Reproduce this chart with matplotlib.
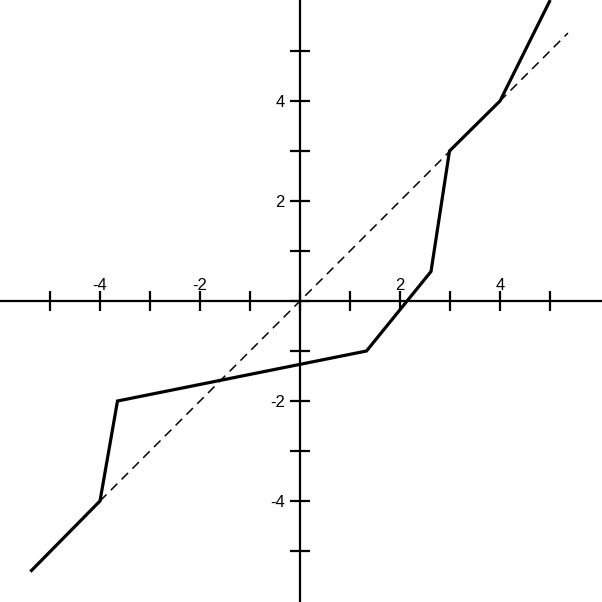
import matplotlib.pyplot as plt

# piecewise curve (solid) and identity line (dashed)
curve_x = [-5.37, -4.0, -3.65, 1.33, 2.62, 2.99, 4.0, 4.99]
curve_y = [-5.39, -4.0, -2.0, -1.0, 0.59, 3.0, 4.0, 5.99]
diag_x = [-4.0, 5.36]
diag_y = [-4.0, 5.36]

ticks = [-5, -4, -3, -2, -1, 0, 1, 2, 3, 4, 5]
tick_labels = ['', '-4', '', '-2', '', '', '', '2', '', '4', '']

plt.rcParams['font.family'] = ['Liberation Sans', 'DejaVu Sans']

fig = plt.figure(figsize=(6.02, 6.02), dpi=100)
ax = fig.add_axes([0, 0, 1, 1])

ax.plot(diag_x, diag_y, color='black', lw=1.1, linestyle=(0, (6, 4)))
ax.plot(curve_x, curve_y, color='black', lw=2.3, solid_joinstyle='miter')

ax.set_xlim(-6.0, 6.04)
ax.set_ylim(-6.02, 6.02)

# axes through the origin
ax.spines['top'].set_position(('data', 0))
ax.spines['left'].set_position(('data', 0))
ax.spines['bottom'].set_visible(False)
ax.spines['right'].set_visible(False)
for s in ['top', 'left']:
    ax.spines[s].set_linewidth(1.6)

ax.xaxis.set_ticks_position('top')
ax.yaxis.set_ticks_position('left')
ax.set_xticks(ticks)
ax.set_xticklabels(tick_labels)
ax.set_yticks(ticks)
ax.set_yticklabels(tick_labels)
ax.tick_params(axis='x', direction='inout', length=13.7, width=1.6, pad=-0.8, labelsize=12)
ax.tick_params(axis='y', direction='inout', length=13.7, width=1.6, pad=4, labelsize=12)

fig.savefig('out.png', dpi=100)
